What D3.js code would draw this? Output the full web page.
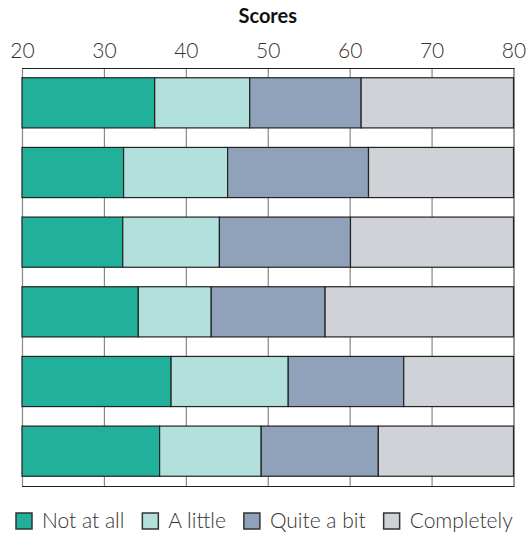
<!DOCTYPE html>
<html>
<head>
<script src="https://d3js.org/d3.v7.min.js"></script>
<style>
  body { margin: 0; background: #fff; }
  text { font-family: Lato, "Open Sans", sans-serif; }
  .light { font-family: "Lato Light", Lato, sans-serif; font-weight: 300; }
</style>
</head>
<body>
<script>
  var w = 529, h = 538;

  // one entry per bar, top to bottom
  var rows = ['r1', 'r2', 'r3', 'r4', 'r5', 'r6'];
  var categories = ['Not at all', 'A little', 'Quite a bit', 'Completely'];
  var notAtAll   = [16.2, 12.4, 12.3, 14.2, 18.2, 16.8];
  var aLittle    = [11.6, 12.7, 11.8,  8.9, 14.3, 12.4];
  var quiteABit  = [13.6, 17.2, 16.0, 13.9, 14.1, 14.3];
  var completely = [18.6, 17.7, 19.9, 23.0, 13.4, 16.5];
  var ticks = [20, 30, 40, 50, 60, 70, 80];
  var colors = ['#21b19a', '#b2e0dd', '#8fa2ba', '#cfd2d6'];

  var base = 20;
  var table = rows.map(function(r, i) {
    return { row: r, 'Not at all': notAtAll[i], 'A little': aLittle[i],
             'Quite a bit': quiteABit[i], 'Completely': completely[i] };
  });

  var x = d3.scaleLinear().domain([20, 80]).range([22, 513.5]);
  var y = d3.scaleBand().domain(rows).range([68, 486])
            .paddingInner(0.28).paddingOuter(0.14);
  var color = d3.scaleOrdinal().domain(categories).range(colors);

  var svg = d3.select('body').append('svg')
      .attr('width', w).attr('height', h);

  svg.append('text')
      .attr('x', (x(20) + x(80)) / 2).attr('y', 23)
      .attr('text-anchor', 'middle')
      .style('font-size', '20px').style('font-weight', 'bold')
      .style('fill', '#111')
      .text('Scores');

  // grid lines
  svg.append('g').selectAll('line').data(ticks).join('line')
      .attr('x1', function(d) { return x(d) + 0.5; })
      .attr('x2', function(d) { return x(d) + 0.5; })
      .attr('y1', 68).attr('y2', 486)
      .attr('stroke', function(d) { return d == 80 ? '#999' : '#888'; })
      .attr('stroke-width', function(d) { return d == 80 ? 2 : 1.2; });

  svg.append('line').attr('x1', x(20)).attr('x2', x(80) + 1)
      .attr('y1', 68.5).attr('y2', 68.5).attr('stroke', '#222');
  svg.append('line').attr('x1', x(20)).attr('x2', x(80) + 1)
      .attr('y1', 486.5).attr('y2', 486.5).attr('stroke', '#222');

  var axis = d3.axisTop(x).tickValues(ticks).tickSize(0).tickPadding(10);
  var ag = svg.append('g').attr('transform', 'translate(0,68)').call(axis);
  ag.select('.domain').remove();
  ag.selectAll('text')
      .attr('class', 'light')
      .style('font-size', '21px')
      .style('fill', '#333');
  ag.attr('font-family', null);

  var stack = d3.stack().keys(categories);
  var series = stack(table);

  svg.append('g').selectAll('g').data(series).join('g')
      .attr('fill', function(d) { return color(d.key); })
    .selectAll('rect').data(function(d) { return d; }).join('rect')
      .attr('x', function(d) { return x(base + d[0]); })
      .attr('width', function(d) { return x(base + d[1]) - x(base + d[0]); })
      .attr('y', function(d) { return y(d.data.row); })
      .attr('height', y.bandwidth())
      .attr('stroke', '#222').attr('stroke-width', 1.2);

  // legend
  var lg = svg.append('g').attr('transform', 'translate(16,513)');
  var lx = 0;
  categories.forEach(function(c) {
    var item = lg.append('g').attr('transform', 'translate(' + lx + ',0)');
    item.append('rect').attr('width', 16).attr('height', 16)
        .attr('fill', color(c)).attr('stroke', '#333').attr('stroke-width', 1.5);
    var t = item.append('text').attr('class', 'light').attr('x', 26).attr('y', 15)
        .style('font-size', '21px')
        .style('fill', '#333').text(c);
    lx += 26 + t.node().getComputedTextLength() + 18;
  });
</script>
</body>
</html>
